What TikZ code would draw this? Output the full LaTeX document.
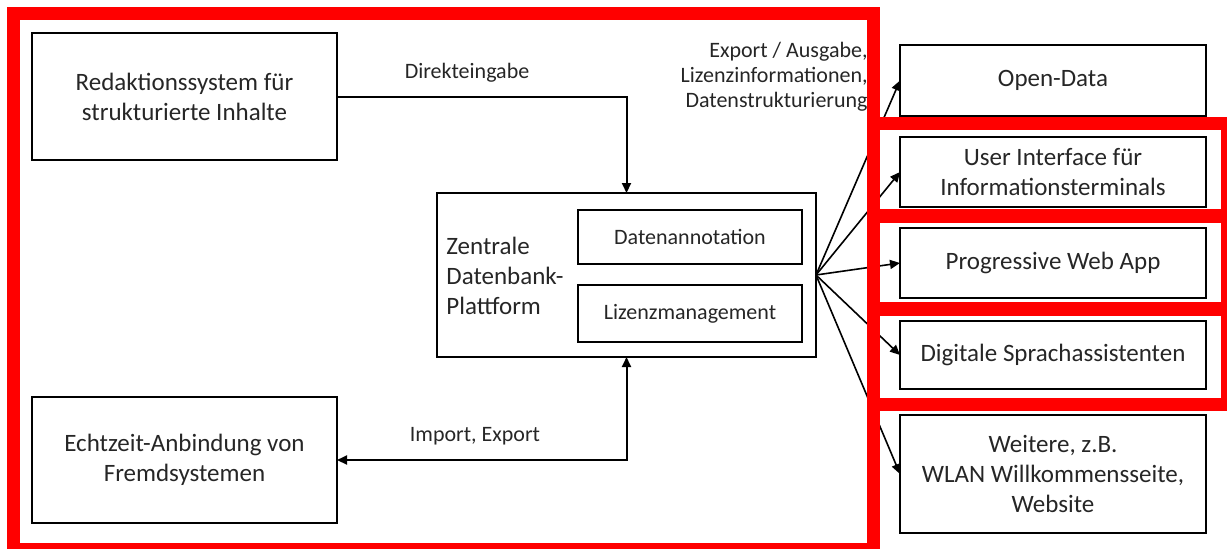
\documentclass[tikz,border=0pt]{standalone}
\usepackage{fontspec}
\setmainfont{Carlito}
\usetikzlibrary{arrows.meta}

\begin{document}
\begin{tikzpicture}[x=0.5pt, y=-0.5pt,
    box/.style={draw, line width=1pt, inner sep=0pt, outer sep=0pt, align=center,
        text=black!85, font=\fontsize{12.5}{15}\selectfont},
    innenbox/.style={box, font=\fontsize{11}{13}\selectfont},
    lbl/.style={inner sep=0pt, text=black!85, font=\fontsize{11}{12.5}\selectfont},
    pfeil/.style={line width=1pt, -{Triangle[length=5pt,width=4.5pt]}},
    doppelpfeil/.style={line width=1pt, {Triangle[length=5pt,width=4.5pt]}-{Triangle[length=5pt,width=4.5pt]}},
    faecher/.style={line width=0.8pt, -{Triangle[length=5pt,width=4.5pt]}},
    rahmen/.style={draw=red, line width=6.5pt}]

    % Bildausschnitt
    \useasboundingbox (0,0) rectangle (1227,548);
    \clip (0,0) rectangle (1227,548);

    % Quellen links
    \node[box, minimum width=152.5pt, minimum height=63.5pt] (redaktion) at (184.5,96.5)
        {Redaktionssystem für\\strukturierte Inhalte};
    \node[box, minimum width=152.5pt, minimum height=63pt] (echtzeit) at (184.5,460)
        {Echtzeit-Anbindung von\\Fremdsystemen};

    % Zentrale Datenbank-Plattform
    \node[box, minimum width=189.5pt, minimum height=82pt] (zentrale) at (626.5,275) {};
    \node[lbl, anchor=west, align=left, font=\fontsize{12.5}{15}\selectfont] (zentraletext) at (446,276)
        {Zentrale\\Datenbank-\\Plattform};
    \node[innenbox, minimum width=112pt, minimum height=27pt] (annotation) at (690,237) {Datenannotation};
    \node[innenbox, minimum width=112pt, minimum height=28.5pt] (lizenz) at (690,313.5) {Lizenzmanagement};

    % Ausgabekanaele rechts
    \node[box, minimum width=153pt, minimum height=35.5pt] (open) at (1053,80.5) {Open-Data};
    \node[box, minimum width=153pt, minimum height=35pt] (ui) at (1053,172)
        {User Interface für\\Informationsterminals};
    \node[box, minimum width=153pt, minimum height=35pt] (pwa) at (1053,263) {Progressive Web App};
    \node[box, minimum width=153pt, minimum height=34pt] (digi) at (1053,355) {Digitale Sprachassistenten};
    \node[box, minimum width=153pt, minimum height=59pt] (weitere) at (1053,474)
        {Weitere, z.B.\\WLAN Willkommensseite,\\Website};

    % Beschriftungen
    \node[lbl] (direkt) at (467,73) {Direkteingabe};
    \node[lbl] (import) at (475,436) {Import, Export};
    \node[lbl, anchor=east, align=right] (export) at (868,77)
        {Export / Ausgabe,\\Lizenzinformationen,\\Datenstrukturierung};

    % Pfeile
    \draw[pfeil] (redaktion.east) -| (zentrale.north);
    \draw[doppelpfeil] (zentrale.south) |- (echtzeit.east);
    \foreach \ziel in {open,ui,pwa,digi,weitere}
        \draw[faecher] (zentrale.east) -- (\ziel.west);

    % rote Markierungen
    \draw[rahmen] (13,13) rectangle (873.5,549.5);
    \draw[rahmen] (873.5,123.5) rectangle (1227.5,215);
    \draw[rahmen] (873.5,216) rectangle (1227.5,308.5);
    \draw[rahmen] (873.5,309) rectangle (1227.5,404);

\end{tikzpicture}
\end{document}
